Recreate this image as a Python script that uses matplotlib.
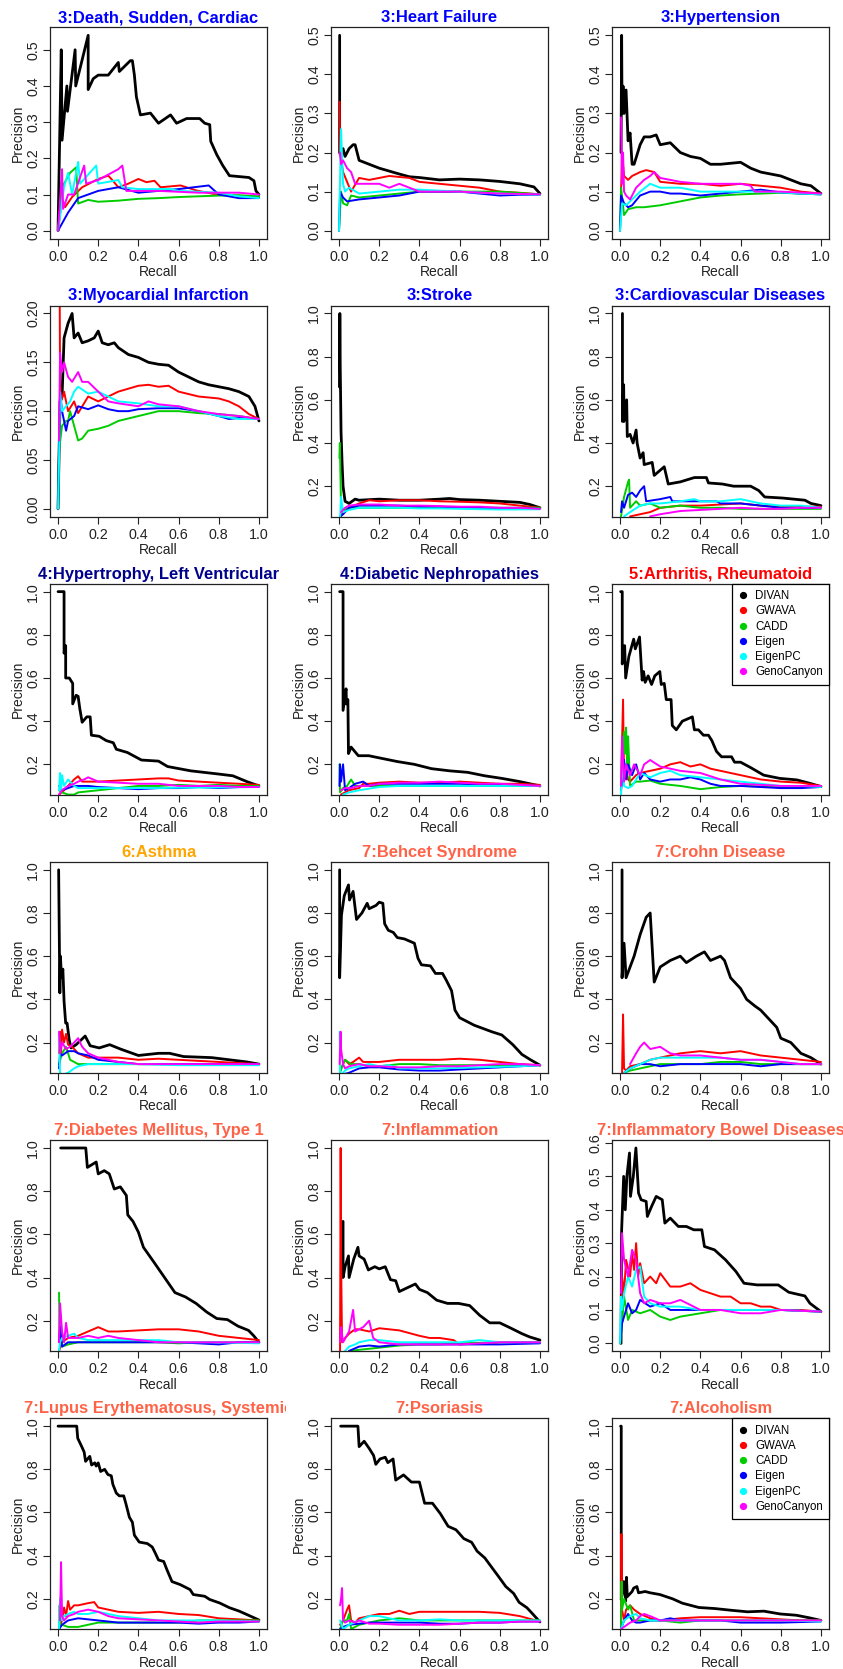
import matplotlib
matplotlib.use("Agg")
import matplotlib.pyplot as plt
from matplotlib.lines import Line2D
from matplotlib.transforms import Bbox, TransformedBbox
from matplotlib.ticker import FormatStrFormatter

plt.rcParams['font.family'] = ['Liberation Sans', 'DejaVu Sans']

methods = ["DIVAN", "GWAVA", "CADD", "Eigen", "EigenPC", "GenoCanyon"]
method_colors = ["#000000", "#FF0000", "#00CD00", "#0000FF", "#00FFFF", "#FF00FF"]

# (recall, precision) per method
death = {
    "DIVAN": ([0, 0.016, 0.02, 0.044, 0.047, 0.085, 0.088, 0.15, 0.15, 0.175, 0.2, 0.25, 0.3, 0.305, 0.36, 0.37, 0.38, 0.39, 0.41, 0.46, 0.5, 0.56, 0.59, 0.64, 0.705, 0.73, 0.755, 0.76, 0.79, 0.82, 0.853, 0.95, 0.975, 0.985, 1.0],
              [0, 0.5, 0.25, 0.4, 0.33, 0.5, 0.4, 0.54, 0.39, 0.42, 0.43, 0.43, 0.465, 0.44, 0.47, 0.47, 0.43, 0.37, 0.32, 0.325, 0.297, 0.32, 0.297, 0.31, 0.31, 0.297, 0.293, 0.247, 0.21, 0.18, 0.152, 0.147, 0.138, 0.11, 0.1]),
    "GWAVA": ([0, 0.02, 0.035, 0.07, 0.12, 0.2, 0.25, 0.27, 0.3, 0.35, 0.4, 0.44, 0.48, 0.51, 0.61, 0.69, 0.77, 1.0],
              [0, 0.09, 0.065, 0.093, 0.12, 0.143, 0.152, 0.14, 0.12, 0.13, 0.143, 0.134, 0.138, 0.12, 0.125, 0.111, 0.102, 0.093]),
    "CADD": ([0, 0.02, 0.04, 0.06, 0.09, 0.1, 0.15, 0.2, 0.3, 0.4, 0.5, 0.6, 0.7, 0.8, 0.9, 1.0],
             [0, 0.12, 0.14, 0.16, 0.175, 0.075, 0.085, 0.08, 0.083, 0.088, 0.09, 0.093, 0.095, 0.097, 0.098, 0.095]),
    "Eigen": ([0, 0.05, 0.1, 0.2, 0.3, 0.4, 0.5, 0.6, 0.75, 0.8, 0.9, 1.0],
              [0, 0.05, 0.09, 0.11, 0.12, 0.105, 0.11, 0.115, 0.125, 0.1, 0.09, 0.09]),
    "EigenPC": ([0, 0.03, 0.05, 0.07, 0.1, 0.11, 0.19, 0.2, 0.3, 0.32, 0.4, 0.56, 0.6, 0.8, 0.9, 1.0],
                [0, 0.12, 0.16, 0.1, 0.19, 0.13, 0.18, 0.13, 0.14, 0.12, 0.115, 0.115, 0.11, 0.105, 0.095, 0.09]),
    "GenoCanyon": ([0, 0.02, 0.025, 0.05, 0.08, 0.13, 0.14, 0.2, 0.3, 0.32, 0.34, 0.4, 0.5, 0.7, 0.9, 1.0],
                   [0, 0.17, 0.06, 0.1, 0.1, 0.18, 0.13, 0.14, 0.17, 0.18, 0.11, 0.11, 0.11, 0.105, 0.105, 0.1]),
}

heart_failure = {
    "DIVAN": ([0.003, 0.003, 0.01, 0.02, 0.03, 0.05, 0.07, 0.08, 0.1, 0.15, 0.2, 0.3, 0.35, 0.4, 0.5, 0.6, 0.7, 0.8, 0.9, 0.97, 1.0],
              [0.5, 0.2, 0.19, 0.21, 0.19, 0.21, 0.22, 0.22, 0.18, 0.17, 0.16, 0.145, 0.138, 0.136, 0.13, 0.132, 0.13, 0.126, 0.12, 0.112, 0.095]),
    "GWAVA": ([0.003, 0.005, 0.02, 0.06, 0.1, 0.15, 0.25, 0.35, 0.4, 0.5, 0.6, 0.7, 0.8, 0.9, 1.0],
              [0.33, 0.2, 0.15, 0.1, 0.135, 0.13, 0.14, 0.135, 0.125, 0.12, 0.115, 0.11, 0.1, 0.097, 0.093]),
    "CADD": ([0, 0.01, 0.02, 0.04, 0.06, 0.1, 0.2, 0.3, 0.4, 0.6, 0.8, 1.0],
             [0, 0.1, 0.07, 0.065, 0.09, 0.085, 0.09, 0.095, 0.1, 0.1, 0.1, 0.093]),
    "Eigen": ([0, 0.005, 0.02, 0.04, 0.1, 0.2, 0.3, 0.4, 0.6, 0.8, 0.9, 1.0],
              [0, 0.1, 0.085, 0.075, 0.08, 0.085, 0.09, 0.1, 0.1, 0.09, 0.092, 0.092]),
    "EigenPC": ([0, 0.01, 0.02, 0.03, 0.05, 0.1, 0.2, 0.3, 0.4, 0.6, 0.8, 1.0],
                [0, 0.26, 0.12, 0.1, 0.11, 0.095, 0.1, 0.105, 0.105, 0.1, 0.095, 0.092]),
    "GenoCanyon": ([0.005, 0.01, 0.02, 0.04, 0.06, 0.08, 0.1, 0.2, 0.25, 0.3, 0.35, 0.4, 0.6, 0.8, 1.0],
                   [0.2, 0.17, 0.18, 0.16, 0.15, 0.12, 0.12, 0.12, 0.11, 0.12, 0.11, 0.1, 0.1, 0.095, 0.093]),
}

hypertension = {
    "DIVAN": ([0.005, 0.008, 0.01, 0.015, 0.02, 0.03, 0.04, 0.05, 0.06, 0.07, 0.1, 0.12, 0.15, 0.18, 0.2, 0.25, 0.3, 0.35, 0.4, 0.45, 0.5, 0.6, 0.65, 0.7, 0.8, 0.9, 0.95, 1.0],
              [0.2, 0.5, 0.3, 0.37, 0.3, 0.36, 0.23, 0.25, 0.17, 0.17, 0.22, 0.24, 0.24, 0.245, 0.22, 0.225, 0.2, 0.19, 0.185, 0.17, 0.17, 0.175, 0.16, 0.15, 0.14, 0.12, 0.115, 0.095]),
    "GWAVA": ([0.005, 0.01, 0.02, 0.04, 0.06, 0.1, 0.13, 0.17, 0.2, 0.3, 0.4, 0.5, 0.6, 0.7, 0.8, 0.9, 1.0],
              [0.1, 0.2, 0.14, 0.13, 0.14, 0.15, 0.155, 0.15, 0.125, 0.12, 0.12, 0.115, 0.12, 0.115, 0.11, 0.1, 0.095]),
    "CADD": ([0, 0.005, 0.02, 0.04, 0.08, 0.12, 0.2, 0.3, 0.4, 0.5, 0.6, 0.7, 0.8, 0.9, 1.0],
             [0, 0.11, 0.04, 0.055, 0.06, 0.06, 0.065, 0.075, 0.085, 0.09, 0.093, 0.095, 0.097, 0.095, 0.093]),
    "Eigen": ([0, 0.005, 0.02, 0.04, 0.06, 0.1, 0.15, 0.2, 0.25, 0.3, 0.4, 0.5, 0.6, 0.7, 0.8, 0.9, 1.0],
              [0, 0.09, 0.07, 0.06, 0.065, 0.09, 0.1, 0.1, 0.095, 0.095, 0.09, 0.095, 0.1, 0.105, 0.098, 0.095, 0.093]),
    "EigenPC": ([0, 0.01, 0.03, 0.06, 0.1, 0.15, 0.2, 0.3, 0.4, 0.5, 0.6, 0.7, 0.8, 0.9, 1.0],
                [0, 0.07, 0.065, 0.08, 0.1, 0.12, 0.11, 0.11, 0.1, 0.1, 0.1, 0.1, 0.098, 0.095, 0.093]),
    "GenoCanyon": ([0.005, 0.01, 0.015, 0.02, 0.03, 0.05, 0.08, 0.12, 0.15, 0.17, 0.2, 0.3, 0.4, 0.5, 0.6, 0.65, 0.67, 0.8, 1.0],
                   [0.29, 0.12, 0.2, 0.1, 0.09, 0.08, 0.11, 0.13, 0.14, 0.15, 0.135, 0.125, 0.12, 0.12, 0.12, 0.115, 0.1, 0.1, 0.095]),
}

myocardial = {
    "DIVAN": ([0, 0.01, 0.02, 0.03, 0.05, 0.07, 0.08, 0.1, 0.12, 0.15, 0.18, 0.2, 0.22, 0.25, 0.28, 0.3, 0.35, 0.4, 0.45, 0.5, 0.55, 0.6, 0.65, 0.7, 0.75, 0.8, 0.85, 0.9, 0.95, 0.98, 1.0],
              [0, 0.11, 0.115, 0.175, 0.19, 0.2, 0.175, 0.18, 0.17, 0.172, 0.175, 0.182, 0.17, 0.168, 0.17, 0.165, 0.158, 0.155, 0.15, 0.148, 0.147, 0.14, 0.135, 0.13, 0.127, 0.125, 0.123, 0.12, 0.115, 0.105, 0.09]),
    "GWAVA": ([0.003, 0.01, 0.015, 0.03, 0.05, 0.08, 0.1, 0.15, 0.2, 0.3, 0.4, 0.45, 0.5, 0.55, 0.6, 0.7, 0.8, 0.85, 0.9, 0.95, 1.0],
              [0.5, 0.13, 0.11, 0.12, 0.1, 0.11, 0.098, 0.115, 0.11, 0.12, 0.126, 0.127, 0.125, 0.126, 0.12, 0.115, 0.113, 0.11, 0.105, 0.097, 0.092]),
    "CADD": ([0, 0.005, 0.02, 0.04, 0.05, 0.06, 0.08, 0.1, 0.12, 0.15, 0.2, 0.25, 0.3, 0.4, 0.5, 0.6, 0.7, 0.8, 0.9, 1.0],
             [0, 0.06, 0.085, 0.09, 0.09, 0.1, 0.085, 0.07, 0.072, 0.08, 0.082, 0.085, 0.09, 0.095, 0.1, 0.1, 0.098, 0.097, 0.095, 0.092]),
    "Eigen": ([0, 0.005, 0.01, 0.02, 0.04, 0.05, 0.08, 0.1, 0.15, 0.2, 0.25, 0.3, 0.35, 0.4, 0.5, 0.6, 0.7, 0.8, 0.85, 0.9, 1.0],
              [0, 0.06, 0.12, 0.1, 0.08, 0.09, 0.095, 0.105, 0.102, 0.106, 0.102, 0.1, 0.1, 0.102, 0.103, 0.103, 0.1, 0.095, 0.092, 0.093, 0.092]),
    "EigenPC": ([0, 0.005, 0.01, 0.02, 0.04, 0.06, 0.08, 0.1, 0.15, 0.2, 0.3, 0.4, 0.5, 0.6, 0.7, 0.8, 0.9, 1.0],
                [0, 0.05, 0.12, 0.1, 0.105, 0.11, 0.12, 0.125, 0.118, 0.12, 0.11, 0.108, 0.105, 0.105, 0.1, 0.095, 0.092, 0.092]),
    "GenoCanyon": ([0.005, 0.01, 0.02, 0.03, 0.05, 0.07, 0.1, 0.12, 0.15, 0.2, 0.25, 0.3, 0.4, 0.45, 0.5, 0.6, 0.7, 0.8, 0.9, 1.0],
                   [0.07, 0.16, 0.14, 0.15, 0.135, 0.13, 0.14, 0.13, 0.13, 0.12, 0.11, 0.108, 0.105, 0.11, 0.107, 0.105, 0.1, 0.097, 0.095, 0.092]),
}

stroke = {
    "DIVAN": ([0.002, 0.004, 0.006, 0.01, 0.015, 0.02, 0.03, 0.05, 0.08, 0.1, 0.2, 0.3, 0.4, 0.5, 0.55, 0.6, 0.7, 0.8, 0.9, 0.95, 1.0],
              [0.66, 1.0, 0.75, 0.45, 0.31, 0.2, 0.13, 0.12, 0.14, 0.135, 0.14, 0.135, 0.135, 0.14, 0.143, 0.138, 0.135, 0.13, 0.125, 0.115, 0.1]),
    "GWAVA": ([0.005, 0.02, 0.05, 0.1, 0.15, 0.2, 0.3, 0.4, 0.5, 0.6, 0.7, 0.8, 0.9, 1.0],
              [0.05, 0.08, 0.1, 0.12, 0.135, 0.13, 0.135, 0.135, 0.13, 0.128, 0.125, 0.12, 0.11, 0.1]),
    "CADD": ([0.002, 0.004, 0.01, 0.02, 0.05, 0.1, 0.2, 0.3, 0.4, 0.5, 0.6, 0.8, 1.0],
             [0.33, 0.4, 0.1, 0.09, 0.1, 0.1, 0.1, 0.1, 0.1, 0.1, 0.1, 0.1, 0.1]),
    "Eigen": ([0.005, 0.02, 0.05, 0.1, 0.2, 0.3, 0.4, 0.5, 0.6, 0.7, 0.8, 0.9, 1.0],
              [0.06, 0.07, 0.1, 0.11, 0.11, 0.11, 0.105, 0.105, 0.1, 0.1, 0.098, 0.097, 0.095]),
    "EigenPC": ([0.005, 0.01, 0.02, 0.05, 0.1, 0.2, 0.3, 0.4, 0.5, 0.6, 0.8, 1.0],
                [0.05, 0.15, 0.08, 0.09, 0.1, 0.1, 0.1, 0.097, 0.097, 0.095, 0.092, 0.093]),
    "GenoCanyon": ([0.01, 0.03, 0.05, 0.1, 0.2, 0.3, 0.4, 0.5, 0.6, 0.7, 0.8, 0.9, 1.0],
                   [0.08, 0.1, 0.11, 0.115, 0.115, 0.11, 0.11, 0.108, 0.105, 0.105, 0.1, 0.1, 0.095]),
}

cardiovascular = {
    "DIVAN": ([0.012, 0.012, 0.018, 0.02, 0.033, 0.036, 0.05, 0.065, 0.08, 0.085, 0.1, 0.115, 0.12, 0.16, 0.17, 0.22, 0.24, 0.3, 0.37, 0.43, 0.44, 0.51, 0.565, 0.65, 0.69, 0.72, 0.81, 0.92, 0.95, 1.0],
              [1.0, 0.5, 0.67, 0.5, 0.6, 0.43, 0.44, 0.4, 0.46, 0.4, 0.33, 0.355, 0.3, 0.31, 0.25, 0.29, 0.21, 0.22, 0.24, 0.24, 0.215, 0.21, 0.2, 0.2, 0.18, 0.15, 0.145, 0.135, 0.12, 0.11]),
    "GWAVA": ([0.05, 0.1, 0.15, 0.2, 0.3, 0.4, 0.5, 0.6, 0.7, 0.8, 0.9, 1.0],
              [0.06, 0.07, 0.08, 0.1, 0.11, 0.11, 0.115, 0.12, 0.11, 0.105, 0.105, 0.105]),
    "CADD": ([0.005, 0.02, 0.04, 0.045, 0.05, 0.08, 0.1, 0.15, 0.2, 0.3, 0.4, 0.5, 0.6, 0.8, 1.0],
             [0.06, 0.15, 0.22, 0.23, 0.1, 0.13, 0.11, 0.12, 0.1, 0.11, 0.1, 0.1, 0.095, 0.095, 0.095]),
    "Eigen": ([0.005, 0.01, 0.02, 0.04, 0.06, 0.08, 0.1, 0.12, 0.13, 0.2, 0.25, 0.26, 0.3, 0.4, 0.48, 0.5, 0.6, 0.8, 1.0],
              [0.08, 0.13, 0.1, 0.16, 0.17, 0.15, 0.18, 0.2, 0.13, 0.14, 0.15, 0.13, 0.13, 0.13, 0.13, 0.12, 0.12, 0.1, 0.1]),
    "EigenPC": ([0.02, 0.05, 0.1, 0.15, 0.2, 0.3, 0.37, 0.4, 0.5, 0.6, 0.7, 0.8, 0.9, 1.0],
                [0.06, 0.08, 0.11, 0.12, 0.12, 0.13, 0.14, 0.13, 0.13, 0.14, 0.12, 0.11, 0.11, 0.1]),
    "GenoCanyon": ([0.15, 0.2, 0.3, 0.4, 0.5, 0.6, 0.7, 0.8, 0.9, 1.0],
                   [0.06, 0.07, 0.085, 0.09, 0.095, 0.1, 0.095, 0.095, 0.1, 0.1]),
}

hypertrophy = {
    "DIVAN": ([0, 0.03, 0.03, 0.038, 0.038, 0.056, 0.073, 0.073, 0.09, 0.1, 0.108, 0.12, 0.143, 0.16, 0.166, 0.205, 0.24, 0.275, 0.29, 0.345, 0.415, 0.5, 0.545, 0.66, 0.8, 0.87, 0.94, 1.0],
              [1.0, 1.0, 0.715, 0.75, 0.6, 0.6, 0.575, 0.48, 0.52, 0.515, 0.46, 0.395, 0.42, 0.42, 0.335, 0.33, 0.31, 0.3, 0.27, 0.255, 0.22, 0.215, 0.19, 0.17, 0.155, 0.147, 0.12, 0.1]),
    "GWAVA": ([0.005, 0.03, 0.06, 0.08, 0.1, 0.12, 0.2, 0.3, 0.4, 0.5, 0.55, 0.6, 0.7, 0.8, 0.9, 1.0],
              [0.06, 0.08, 0.11, 0.13, 0.145, 0.12, 0.12, 0.125, 0.13, 0.135, 0.135, 0.125, 0.12, 0.115, 0.11, 0.105]),
    "CADD": ([0.005, 0.02, 0.05, 0.08, 0.1, 0.15, 0.2, 0.3, 0.4, 0.5, 0.6, 0.7, 0.8, 0.9, 1.0],
             [0.08, 0.07, 0.06, 0.06, 0.07, 0.075, 0.08, 0.09, 0.1, 0.1, 0.105, 0.1, 0.105, 0.1, 0.1]),
    "Eigen": ([0.005, 0.02, 0.05, 0.08, 0.1, 0.15, 0.2, 0.3, 0.4, 0.5, 0.6, 0.7, 0.8, 0.9, 1.0],
              [0.1, 0.08, 0.09, 0.1, 0.1, 0.1, 0.095, 0.09, 0.085, 0.09, 0.09, 0.095, 0.09, 0.095, 0.095]),
    "EigenPC": ([0.005, 0.01, 0.015, 0.02, 0.03, 0.05, 0.08, 0.1, 0.2, 0.3, 0.4, 0.5, 0.6, 0.8, 1.0],
                [0.08, 0.16, 0.08, 0.15, 0.1, 0.13, 0.1, 0.09, 0.09, 0.09, 0.09, 0.09, 0.092, 0.093, 0.095]),
    "GenoCanyon": ([0.005, 0.02, 0.05, 0.08, 0.1, 0.13, 0.15, 0.2, 0.3, 0.4, 0.5, 0.6, 0.7, 0.8, 0.9, 1.0],
                   [0.06, 0.08, 0.1, 0.11, 0.12, 0.13, 0.14, 0.12, 0.115, 0.11, 0.11, 0.1, 0.1, 0.1, 0.095, 0.095]),
}

nephropathies = {
    "DIVAN": ([0.003, 0.02, 0.02, 0.035, 0.037, 0.044, 0.047, 0.06, 0.096, 0.148, 0.2, 0.29, 0.375, 0.46, 0.55, 0.64, 0.725, 0.81, 0.9, 1.0],
              [1.0, 1.0, 0.45, 0.55, 0.48, 0.5, 0.25, 0.28, 0.24, 0.24, 0.23, 0.213, 0.2, 0.18, 0.17, 0.163, 0.147, 0.135, 0.12, 0.1]),
    "GWAVA": ([0.01, 0.05, 0.1, 0.12, 0.15, 0.2, 0.3, 0.4, 0.5, 0.6, 0.7, 0.8, 0.9, 1.0],
              [0.06, 0.08, 0.09, 0.11, 0.11, 0.115, 0.12, 0.115, 0.115, 0.12, 0.115, 0.11, 0.11, 0.105]),
    "CADD": ([0.002, 0.005, 0.02, 0.04, 0.06, 0.08, 0.1, 0.2, 0.3, 0.4, 0.5, 0.6, 0.8, 1.0],
             [0.2, 0.07, 0.09, 0.1, 0.13, 0.1, 0.1, 0.1, 0.1, 0.1, 0.1, 0.1, 0.1, 0.1]),
    "Eigen": ([0.002, 0.005, 0.01, 0.02, 0.03, 0.05, 0.08, 0.12, 0.15, 0.2, 0.3, 0.4, 0.6, 0.8, 1.0],
              [0.1, 0.2, 0.12, 0.2, 0.08, 0.09, 0.11, 0.12, 0.1, 0.11, 0.11, 0.11, 0.11, 0.105, 0.1]),
    "EigenPC": ([0.02, 0.05, 0.1, 0.2, 0.3, 0.4, 0.5, 0.6, 0.8, 1.0],
                [0.06, 0.07, 0.08, 0.095, 0.1, 0.1, 0.1, 0.1, 0.1, 0.1]),
    "GenoCanyon": ([0.01, 0.03, 0.06, 0.1, 0.15, 0.2, 0.3, 0.4, 0.5, 0.6, 0.7, 0.8, 0.9, 1.0],
                   [0.08, 0.09, 0.09, 0.1, 0.1, 0.11, 0.115, 0.115, 0.12, 0.115, 0.11, 0.11, 0.105, 0.1]),
}

arthritis = {
    "DIVAN": ([0.003, 0.011, 0.011, 0.015, 0.023, 0.028, 0.044, 0.068, 0.076, 0.097, 0.11, 0.117, 0.125, 0.14, 0.157, 0.173, 0.198, 0.205, 0.22, 0.23, 0.254, 0.26, 0.28, 0.31, 0.36, 0.37, 0.39, 0.415, 0.44, 0.457, 0.48, 0.505, 0.555, 0.57, 0.6, 0.65, 0.715, 0.795, 0.88, 0.945, 1.0],
              [1.0, 1.0, 0.665, 0.745, 0.75, 0.6, 0.7, 0.78, 0.735, 0.79, 0.59, 0.63, 0.58, 0.61, 0.57, 0.61, 0.63, 0.57, 0.575, 0.5, 0.5, 0.38, 0.36, 0.4, 0.42, 0.36, 0.36, 0.335, 0.335, 0.31, 0.26, 0.235, 0.235, 0.21, 0.21, 0.185, 0.15, 0.135, 0.128, 0.112, 0.097]),
    "GWAVA": ([0.005, 0.015, 0.02, 0.025, 0.04, 0.05, 0.08, 0.1, 0.15, 0.2, 0.25, 0.3, 0.35, 0.4, 0.45, 0.5, 0.6, 0.7, 0.8, 0.9, 1.0],
              [0.1, 0.5, 0.15, 0.2, 0.13, 0.12, 0.15, 0.16, 0.17, 0.18, 0.2, 0.21, 0.19, 0.2, 0.18, 0.17, 0.15, 0.13, 0.12, 0.115, 0.1]),
    "CADD": ([0.005, 0.02, 0.025, 0.03, 0.035, 0.04, 0.05, 0.08, 0.1, 0.15, 0.2, 0.3, 0.4, 0.5, 0.6, 0.8, 1.0],
             [0.08, 0.35, 0.25, 0.37, 0.2, 0.33, 0.1, 0.12, 0.12, 0.125, 0.11, 0.1, 0.085, 0.095, 0.1, 0.095, 0.095]),
    "Eigen": ([0.005, 0.02, 0.03, 0.04, 0.06, 0.08, 0.1, 0.12, 0.15, 0.2, 0.25, 0.3, 0.35, 0.4, 0.45, 0.5, 0.6, 0.7, 0.8, 0.9, 1.0],
              [0.08, 0.22, 0.13, 0.2, 0.15, 0.2, 0.13, 0.16, 0.13, 0.12, 0.13, 0.13, 0.14, 0.13, 0.11, 0.1, 0.1, 0.095, 0.09, 0.09, 0.095]),
    "EigenPC": ([0.005, 0.01, 0.02, 0.04, 0.06, 0.08, 0.1, 0.15, 0.2, 0.25, 0.3, 0.4, 0.5, 0.6, 0.7, 0.8, 0.9, 1.0],
                [0.06, 0.25, 0.1, 0.09, 0.1, 0.13, 0.16, 0.14, 0.16, 0.17, 0.15, 0.14, 0.13, 0.12, 0.11, 0.1, 0.1, 0.095]),
    "GenoCanyon": ([0.005, 0.01, 0.02, 0.03, 0.05, 0.07, 0.1, 0.12, 0.15, 0.2, 0.25, 0.3, 0.4, 0.5, 0.6, 0.8, 1.0],
                   [0.1, 0.33, 0.12, 0.2, 0.15, 0.2, 0.15, 0.2, 0.22, 0.19, 0.18, 0.17, 0.16, 0.13, 0.11, 0.1, 0.1]),
}

asthma = {
    "DIVAN": ([0.003, 0.009, 0.012, 0.017, 0.024, 0.03, 0.038, 0.045, 0.056, 0.065, 0.09, 0.135, 0.16, 0.205, 0.257, 0.31, 0.4, 0.5, 0.555, 0.625, 0.765, 0.94, 1.0],
              [1.0, 0.43, 0.6, 0.5, 0.54, 0.39, 0.29, 0.29, 0.21, 0.175, 0.19, 0.23, 0.185, 0.175, 0.19, 0.17, 0.14, 0.15, 0.15, 0.135, 0.13, 0.11, 0.1]),
    "GWAVA": ([0.005, 0.01, 0.015, 0.02, 0.03, 0.04, 0.05, 0.07, 0.1, 0.15, 0.2, 0.3, 0.4, 0.5, 0.6, 0.7, 0.8, 0.9, 1.0],
              [0.15, 0.25, 0.15, 0.26, 0.2, 0.24, 0.19, 0.18, 0.15, 0.13, 0.13, 0.13, 0.12, 0.125, 0.12, 0.115, 0.11, 0.105, 0.1]),
    "CADD": ([0.005, 0.02, 0.04, 0.05, 0.06, 0.08, 0.1, 0.15, 0.2, 0.3, 0.4, 0.6, 0.8, 1.0],
             [0.1, 0.15, 0.18, 0.15, 0.12, 0.11, 0.1, 0.1, 0.1, 0.1, 0.1, 0.1, 0.1, 0.1]),
    "Eigen": ([0.005, 0.01, 0.02, 0.05, 0.08, 0.1, 0.15, 0.2, 0.3, 0.4, 0.5, 0.6, 0.8, 1.0],
              [0.08, 0.15, 0.14, 0.16, 0.16, 0.15, 0.14, 0.12, 0.11, 0.1, 0.1, 0.1, 0.1, 0.1]),
    "EigenPC": ([0.005, 0.01, 0.02, 0.05, 0.08, 0.1, 0.15, 0.2, 0.3, 0.4, 0.6, 0.8, 1.0],
                [0.25, 0.06, 0.05, 0.06, 0.08, 0.09, 0.1, 0.1, 0.1, 0.1, 0.095, 0.095, 0.095]),
    "GenoCanyon": ([0.005, 0.01, 0.02, 0.04, 0.06, 0.08, 0.1, 0.12, 0.15, 0.2, 0.25, 0.3, 0.4, 0.5, 0.6, 0.8, 1.0],
                   [0.25, 0.15, 0.2, 0.17, 0.18, 0.2, 0.22, 0.18, 0.15, 0.13, 0.12, 0.11, 0.1, 0.1, 0.1, 0.1, 0.1]),
}

behcet = {
    "DIVAN": ([0.003, 0.003, 0.012, 0.026, 0.047, 0.052, 0.07, 0.087, 0.114, 0.14, 0.15, 0.184, 0.2, 0.218, 0.227, 0.245, 0.27, 0.29, 0.325, 0.375, 0.393, 0.41, 0.455, 0.48, 0.515, 0.533, 0.56, 0.577, 0.6, 0.673, 0.76, 0.81, 0.865, 0.91, 0.953, 1.0],
              [1.0, 0.5, 0.79, 0.88, 0.93, 0.86, 0.9, 0.77, 0.8, 0.845, 0.82, 0.835, 0.85, 0.845, 0.75, 0.72, 0.71, 0.686, 0.68, 0.66, 0.59, 0.56, 0.555, 0.52, 0.52, 0.49, 0.44, 0.35, 0.315, 0.28, 0.25, 0.235, 0.19, 0.145, 0.12, 0.095]),
    "GWAVA": ([0.005, 0.02, 0.03, 0.05, 0.07, 0.1, 0.12, 0.15, 0.2, 0.3, 0.4, 0.5, 0.6, 0.7, 0.8, 0.9, 1.0],
              [0.07, 0.1, 0.12, 0.1, 0.11, 0.13, 0.11, 0.11, 0.11, 0.12, 0.12, 0.12, 0.125, 0.12, 0.11, 0.1, 0.095]),
    "CADD": ([0.005, 0.02, 0.03, 0.06, 0.1, 0.15, 0.2, 0.3, 0.4, 0.5, 0.6, 0.8, 1.0],
             [0.06, 0.1, 0.12, 0.1, 0.1, 0.09, 0.09, 0.1, 0.1, 0.095, 0.095, 0.095, 0.095]),
    "Eigen": ([0.01, 0.05, 0.1, 0.15, 0.2, 0.3, 0.4, 0.5, 0.6, 0.7, 0.8, 0.9, 1.0],
              [0.05, 0.06, 0.08, 0.085, 0.085, 0.075, 0.07, 0.07, 0.075, 0.08, 0.085, 0.09, 0.095]),
    "EigenPC": ([0.003, 0.005, 0.01, 0.03, 0.05, 0.1, 0.15, 0.2, 0.25, 0.3, 0.5, 0.7, 0.9, 1.0],
                [0.25, 0.06, 0.05, 0.07, 0.08, 0.09, 0.1, 0.09, 0.095, 0.08, 0.08, 0.085, 0.09, 0.095]),
    "GenoCanyon": ([0.003, 0.008, 0.01, 0.02, 0.03, 0.05, 0.1, 0.15, 0.2, 0.3, 0.4, 0.5, 0.6, 0.7, 0.8, 0.9, 1.0],
                   [0.1, 0.25, 0.17, 0.1, 0.08, 0.09, 0.1, 0.09, 0.09, 0.085, 0.085, 0.09, 0.09, 0.095, 0.1, 0.1, 0.095]),
}

crohn = {
    "DIVAN": ([0.01, 0.01, 0.02, 0.03, 0.05, 0.07, 0.1, 0.13, 0.15, 0.17, 0.2, 0.25, 0.3, 0.33, 0.38, 0.42, 0.45, 0.5, 0.52, 0.55, 0.6, 0.63, 0.67, 0.7, 0.75, 0.78, 0.8, 0.85, 0.9, 0.95, 1.0],
              [1.0, 0.5, 0.66, 0.5, 0.55, 0.6, 0.7, 0.78, 0.8, 0.48, 0.55, 0.58, 0.6, 0.57, 0.6, 0.62, 0.58, 0.6, 0.58, 0.5, 0.45, 0.4, 0.37, 0.35, 0.3, 0.27, 0.22, 0.2, 0.15, 0.13, 0.1]),
    "GWAVA": ([0.01, 0.015, 0.02, 0.03, 0.05, 0.1, 0.15, 0.2, 0.3, 0.4, 0.5, 0.6, 0.7, 0.8, 0.9, 1.0],
              [0.06, 0.33, 0.08, 0.07, 0.09, 0.1, 0.12, 0.13, 0.15, 0.16, 0.15, 0.16, 0.14, 0.13, 0.12, 0.11]),
    "CADD": ([0.02, 0.05, 0.1, 0.15, 0.2, 0.3, 0.4, 0.5, 0.6, 0.7, 0.8, 1.0],
             [0.06, 0.07, 0.08, 0.09, 0.1, 0.1, 0.1, 0.11, 0.11, 0.1, 0.1, 0.1]),
    "Eigen": ([0.02, 0.05, 0.1, 0.15, 0.2, 0.3, 0.4, 0.5, 0.6, 0.7, 0.8, 0.9, 1.0],
              [0.06, 0.08, 0.1, 0.1, 0.09, 0.1, 0.1, 0.1, 0.1, 0.09, 0.1, 0.1, 0.1]),
    "EigenPC": ([0.02, 0.05, 0.1, 0.15, 0.2, 0.3, 0.4, 0.5, 0.6, 0.7, 0.8, 0.9, 1.0],
                [0.06, 0.08, 0.1, 0.12, 0.13, 0.13, 0.13, 0.13, 0.12, 0.12, 0.11, 0.1, 0.1]),
    "GenoCanyon": ([0.05, 0.08, 0.1, 0.12, 0.15, 0.2, 0.25, 0.3, 0.4, 0.5, 0.6, 0.7, 0.8, 0.9, 1.0],
                   [0.1, 0.15, 0.18, 0.2, 0.17, 0.18, 0.15, 0.14, 0.14, 0.13, 0.12, 0.12, 0.11, 0.1, 0.1]),
}

diabetes_t1 = {
    "DIVAN": ([0.013, 0.138, 0.146, 0.19, 0.2, 0.23, 0.255, 0.28, 0.31, 0.34, 0.347, 0.373, 0.4, 0.425, 0.478, 0.53, 0.582, 0.634, 0.687, 0.74, 0.79, 0.843, 0.895, 0.948, 0.974, 1.0],
              [1.0, 1.0, 0.91, 0.935, 0.88, 0.895, 0.88, 0.81, 0.82, 0.78, 0.69, 0.66, 0.61, 0.54, 0.47, 0.4, 0.33, 0.31, 0.28, 0.24, 0.21, 0.205, 0.175, 0.155, 0.13, 0.1]),
    "GWAVA": ([0.005, 0.02, 0.05, 0.1, 0.15, 0.2, 0.25, 0.3, 0.4, 0.5, 0.6, 0.7, 0.8, 0.9, 1.0],
              [0.06, 0.1, 0.12, 0.13, 0.15, 0.17, 0.15, 0.15, 0.155, 0.16, 0.16, 0.15, 0.13, 0.12, 0.11]),
    "CADD": ([0.005, 0.008, 0.01, 0.02, 0.05, 0.1, 0.2, 0.3, 0.4, 0.5, 0.6, 0.7, 0.8, 1.0],
             [0.33, 0.1, 0.25, 0.08, 0.09, 0.1, 0.1, 0.1, 0.1, 0.1, 0.095, 0.1, 0.1, 0.1]),
    "Eigen": ([0.005, 0.01, 0.02, 0.05, 0.1, 0.2, 0.3, 0.4, 0.5, 0.6, 0.7, 0.8, 0.9, 1.0],
              [0.1, 0.17, 0.08, 0.1, 0.1, 0.1, 0.1, 0.1, 0.1, 0.1, 0.095, 0.09, 0.1, 0.1]),
    "EigenPC": ([0.005, 0.01, 0.02, 0.05, 0.08, 0.1, 0.15, 0.2, 0.3, 0.4, 0.5, 0.6, 0.8, 1.0],
                [0.06, 0.1, 0.12, 0.13, 0.14, 0.12, 0.11, 0.11, 0.11, 0.11, 0.11, 0.1, 0.1, 0.095]),
    "GenoCanyon": ([0.005, 0.01, 0.02, 0.03, 0.04, 0.05, 0.08, 0.1, 0.15, 0.2, 0.25, 0.3, 0.4, 0.5, 0.6, 0.8, 1.0],
                   [0.1, 0.28, 0.15, 0.1, 0.19, 0.12, 0.12, 0.12, 0.13, 0.12, 0.13, 0.12, 0.11, 0.1, 0.1, 0.1, 0.1]),
}

inflammation = {
    "DIVAN": ([0.02, 0.02, 0.03, 0.047, 0.05, 0.073, 0.094, 0.1, 0.125, 0.146, 0.178, 0.2, 0.23, 0.256, 0.282, 0.3, 0.334, 0.38, 0.4, 0.44, 0.486, 0.54, 0.595, 0.65, 0.7, 0.75, 0.8, 0.856, 0.91, 0.948, 1.0],
              [0.66, 0.4, 0.45, 0.5, 0.4, 0.485, 0.54, 0.5, 0.485, 0.435, 0.45, 0.44, 0.45, 0.39, 0.385, 0.335, 0.35, 0.37, 0.345, 0.33, 0.295, 0.28, 0.28, 0.27, 0.225, 0.19, 0.19, 0.165, 0.14, 0.125, 0.11]),
    "GWAVA": ([0.005, 0.008, 0.01, 0.015, 0.03, 0.05, 0.08, 0.1, 0.15, 0.2, 0.25, 0.3, 0.4, 0.45, 0.5, 0.57, 0.6, 0.8, 0.9, 1.0],
              [0.06, 1.0, 0.5, 0.1, 0.12, 0.14, 0.16, 0.16, 0.15, 0.165, 0.16, 0.155, 0.13, 0.12, 0.12, 0.11, 0.09, 0.1, 0.1, 0.1]),
    "CADD": ([0.05, 0.1, 0.15, 0.2, 0.3, 0.4, 0.5, 0.6, 0.8, 1.0],
             [0.06, 0.065, 0.07, 0.075, 0.085, 0.09, 0.09, 0.095, 0.1, 0.1]),
    "Eigen": ([0.05, 0.1, 0.15, 0.2, 0.3, 0.4, 0.5, 0.6, 0.8, 1.0],
              [0.06, 0.08, 0.085, 0.08, 0.09, 0.09, 0.09, 0.09, 0.09, 0.095]),
    "EigenPC": ([0.03, 0.05, 0.08, 0.1, 0.15, 0.2, 0.3, 0.4, 0.5, 0.6, 0.7, 0.8, 0.9, 1.0],
                [0.06, 0.08, 0.09, 0.1, 0.11, 0.11, 0.1, 0.1, 0.1, 0.1, 0.11, 0.1, 0.1, 0.1]),
    "GenoCanyon": ([0.005, 0.01, 0.02, 0.05, 0.06, 0.07, 0.08, 0.1, 0.12, 0.14, 0.15, 0.17, 0.2, 0.3, 0.4, 0.5, 0.6, 0.8, 1.0],
                   [0.1, 0.17, 0.1, 0.15, 0.2, 0.25, 0.15, 0.16, 0.17, 0.19, 0.2, 0.12, 0.1, 0.09, 0.09, 0.09, 0.09, 0.1, 0.1]),
}

bowel = {
    "DIVAN": ([0.005, 0.008, 0.018, 0.026, 0.034, 0.047, 0.052, 0.066, 0.079, 0.092, 0.105, 0.13, 0.136, 0.157, 0.18, 0.21, 0.223, 0.25, 0.29, 0.33, 0.367, 0.407, 0.42, 0.47, 0.525, 0.577, 0.617, 0.682, 0.787, 0.84, 0.92, 0.945, 1.0],
              [0, 0.34, 0.5, 0.4, 0.5, 0.57, 0.44, 0.5, 0.585, 0.45, 0.43, 0.425, 0.38, 0.41, 0.44, 0.43, 0.36, 0.375, 0.35, 0.35, 0.34, 0.34, 0.29, 0.28, 0.25, 0.215, 0.18, 0.175, 0.175, 0.153, 0.142, 0.12, 0.095]),
    "GWAVA": ([0.005, 0.01, 0.02, 0.03, 0.05, 0.06, 0.07, 0.08, 0.09, 0.1, 0.12, 0.15, 0.18, 0.2, 0.25, 0.3, 0.35, 0.4, 0.45, 0.5, 0.55, 0.6, 0.65, 0.7, 0.75, 0.8, 0.9, 1.0],
              [0.05, 0.2, 0.15, 0.25, 0.2, 0.27, 0.22, 0.3, 0.2, 0.24, 0.18, 0.2, 0.18, 0.21, 0.17, 0.17, 0.18, 0.16, 0.15, 0.14, 0.14, 0.12, 0.12, 0.11, 0.11, 0.1, 0.1, 0.095]),
    "CADD": ([0, 0.01, 0.02, 0.04, 0.06, 0.1, 0.15, 0.2, 0.25, 0.3, 0.4, 0.5, 0.6, 0.8, 1.0],
             [0, 0.06, 0.14, 0.07, 0.1, 0.09, 0.1, 0.08, 0.07, 0.08, 0.09, 0.1, 0.1, 0.1, 0.095]),
    "Eigen": ([0, 0.01, 0.02, 0.04, 0.06, 0.08, 0.1, 0.15, 0.2, 0.25, 0.3, 0.4, 0.5, 0.6, 0.8, 1.0],
              [0, 0.06, 0.08, 0.12, 0.09, 0.1, 0.13, 0.11, 0.12, 0.1, 0.1, 0.1, 0.1, 0.1, 0.1, 0.095]),
    "EigenPC": ([0, 0.005, 0.01, 0.02, 0.04, 0.06, 0.08, 0.1, 0.12, 0.15, 0.2, 0.3, 0.4, 0.5, 0.6, 0.8, 1.0],
                [0, 0.14, 0.1, 0.15, 0.2, 0.17, 0.22, 0.23, 0.14, 0.12, 0.11, 0.11, 0.1, 0.1, 0.1, 0.1, 0.095]),
    "GenoCanyon": ([0.005, 0.01, 0.02, 0.04, 0.06, 0.08, 0.1, 0.12, 0.15, 0.2, 0.25, 0.3, 0.4, 0.5, 0.6, 0.7, 0.8, 1.0],
                   [0.15, 0.33, 0.25, 0.2, 0.28, 0.25, 0.15, 0.12, 0.13, 0.12, 0.12, 0.13, 0.1, 0.1, 0.09, 0.09, 0.1, 0.095]),
}

lupus = {
    "DIVAN": ([0, 0.093, 0.098, 0.118, 0.13, 0.137, 0.158, 0.167, 0.183, 0.19, 0.2, 0.212, 0.232, 0.248, 0.265, 0.273, 0.29, 0.305, 0.327, 0.338, 0.355, 0.37, 0.38, 0.404, 0.445, 0.469, 0.485, 0.5, 0.526, 0.542, 0.567, 0.608, 0.657, 0.673, 0.73, 0.755, 0.804, 0.853, 0.902, 0.95, 1.0],
              [1.0, 1.0, 0.944, 0.905, 0.88, 0.837, 0.86, 0.82, 0.83, 0.815, 0.83, 0.79, 0.8, 0.776, 0.77, 0.73, 0.69, 0.677, 0.677, 0.64, 0.578, 0.555, 0.495, 0.463, 0.456, 0.44, 0.41, 0.38, 0.373, 0.335, 0.28, 0.266, 0.243, 0.22, 0.212, 0.197, 0.181, 0.159, 0.143, 0.123, 0.102]),
    "GWAVA": ([0.005, 0.02, 0.03, 0.04, 0.05, 0.06, 0.08, 0.1, 0.15, 0.18, 0.2, 0.25, 0.3, 0.4, 0.5, 0.6, 0.7, 0.8, 0.9, 1.0],
              [0.06, 0.1, 0.16, 0.12, 0.19, 0.15, 0.17, 0.17, 0.18, 0.185, 0.16, 0.15, 0.14, 0.135, 0.14, 0.13, 0.125, 0.11, 0.105, 0.1]),
    "CADD": ([0.005, 0.008, 0.01, 0.02, 0.05, 0.1, 0.15, 0.2, 0.3, 0.4, 0.5, 0.6, 0.7, 0.8, 1.0],
             [0.06, 0.17, 0.07, 0.08, 0.07, 0.07, 0.08, 0.09, 0.09, 0.09, 0.09, 0.09, 0.1, 0.1, 0.1]),
    "Eigen": ([0.005, 0.02, 0.05, 0.1, 0.15, 0.2, 0.3, 0.4, 0.5, 0.6, 0.7, 0.8, 0.9, 1.0],
              [0.06, 0.08, 0.1, 0.11, 0.105, 0.1, 0.09, 0.09, 0.09, 0.09, 0.085, 0.09, 0.09, 0.095]),
    "EigenPC": ([0.005, 0.01, 0.015, 0.02, 0.03, 0.05, 0.08, 0.1, 0.15, 0.2, 0.3, 0.4, 0.5, 0.6, 0.8, 1.0],
                [0.06, 0.2, 0.21, 0.1, 0.12, 0.13, 0.14, 0.13, 0.13, 0.14, 0.12, 0.11, 0.1, 0.1, 0.1, 0.095]),
    "GenoCanyon": ([0.01, 0.015, 0.02, 0.03, 0.05, 0.08, 0.1, 0.15, 0.2, 0.25, 0.3, 0.4, 0.5, 0.6, 0.7, 0.8, 1.0],
                   [0.1, 0.37, 0.12, 0.1, 0.12, 0.13, 0.14, 0.15, 0.14, 0.12, 0.11, 0.105, 0.1, 0.095, 0.09, 0.095, 0.095]),
}

psoriasis = {
    "DIVAN": ([0.008, 0.094, 0.1, 0.125, 0.15, 0.172, 0.183, 0.204, 0.23, 0.243, 0.269, 0.282, 0.321, 0.36, 0.4, 0.426, 0.465, 0.504, 0.543, 0.582, 0.621, 0.66, 0.687, 0.726, 0.752, 0.791, 0.83, 0.869, 0.896, 0.935, 0.96, 1.0],
              [1.0, 1.0, 0.905, 0.93, 0.897, 0.864, 0.823, 0.848, 0.856, 0.831, 0.848, 0.75, 0.774, 0.741, 0.741, 0.643, 0.643, 0.595, 0.536, 0.52, 0.479, 0.462, 0.421, 0.389, 0.356, 0.307, 0.257, 0.225, 0.184, 0.159, 0.134, 0.093]),
    "GWAVA": ([0.005, 0.02, 0.04, 0.05, 0.06, 0.08, 0.1, 0.15, 0.2, 0.25, 0.3, 0.35, 0.4, 0.5, 0.6, 0.7, 0.8, 0.9, 1.0],
              [0.08, 0.1, 0.15, 0.17, 0.1, 0.09, 0.11, 0.12, 0.13, 0.13, 0.145, 0.13, 0.14, 0.14, 0.14, 0.14, 0.135, 0.12, 0.095]),
    "CADD": ([0.005, 0.02, 0.04, 0.05, 0.06, 0.1, 0.15, 0.2, 0.3, 0.4, 0.5, 0.6, 0.8, 1.0],
             [0.06, 0.1, 0.1, 0.13, 0.06, 0.08, 0.09, 0.1, 0.11, 0.1, 0.1, 0.1, 0.1, 0.1]),
    "Eigen": ([0.005, 0.02, 0.05, 0.1, 0.15, 0.2, 0.3, 0.4, 0.5, 0.6, 0.7, 0.8, 0.9, 1.0],
              [0.06, 0.07, 0.08, 0.085, 0.09, 0.09, 0.09, 0.09, 0.085, 0.085, 0.09, 0.09, 0.095, 0.095]),
    "EigenPC": ([0.005, 0.02, 0.05, 0.1, 0.15, 0.2, 0.25, 0.3, 0.4, 0.5, 0.6, 0.7, 0.8, 0.9, 1.0],
                [0.1, 0.06, 0.08, 0.1, 0.12, 0.12, 0.11, 0.1, 0.1, 0.105, 0.1, 0.1, 0.1, 0.1, 0.1]),
    "GenoCanyon": ([0.005, 0.01, 0.015, 0.02, 0.03, 0.05, 0.08, 0.1, 0.15, 0.2, 0.3, 0.4, 0.5, 0.6, 0.7, 0.8, 0.9, 1.0],
                   [0.17, 0.2, 0.25, 0.1, 0.09, 0.1, 0.09, 0.1, 0.085, 0.085, 0.08, 0.08, 0.08, 0.085, 0.09, 0.09, 0.095, 0.095]),
}

alcoholism = {
    "DIVAN": ([0.003, 0.006, 0.006, 0.019, 0.028, 0.032, 0.036, 0.06, 0.068, 0.084, 0.092, 0.125, 0.15, 0.198, 0.23, 0.262, 0.31, 0.392, 0.473, 0.554, 0.635, 0.716, 0.797, 0.878, 0.943, 1.0],
              [1.0, 1.0, 0.195, 0.28, 0.19, 0.3, 0.21, 0.234, 0.25, 0.257, 0.228, 0.234, 0.228, 0.22, 0.21, 0.2, 0.18, 0.16, 0.155, 0.147, 0.14, 0.143, 0.13, 0.124, 0.112, 0.1]),
    "GWAVA": ([0.005, 0.007, 0.01, 0.02, 0.03, 0.05, 0.07, 0.1, 0.15, 0.2, 0.3, 0.4, 0.5, 0.6, 0.7, 0.8, 0.9, 1.0],
              [0.06, 0.5, 0.15, 0.1, 0.15, 0.17, 0.15, 0.13, 0.11, 0.1, 0.11, 0.115, 0.115, 0.115, 0.11, 0.105, 0.1, 0.1]),
    "CADD": ([0.005, 0.008, 0.01, 0.02, 0.04, 0.05, 0.07, 0.1, 0.2, 0.3, 0.4, 0.6, 0.8, 1.0],
             [0.06, 0.28, 0.15, 0.2, 0.15, 0.17, 0.1, 0.1, 0.1, 0.09, 0.1, 0.1, 0.1, 0.1]),
    "Eigen": ([0.005, 0.02, 0.04, 0.06, 0.08, 0.1, 0.15, 0.2, 0.25, 0.3, 0.4, 0.5, 0.6, 0.7, 0.8, 1.0],
              [0.06, 0.1, 0.13, 0.1, 0.09, 0.09, 0.1, 0.1, 0.11, 0.1, 0.1, 0.1, 0.09, 0.09, 0.09, 0.095]),
    "EigenPC": ([0.005, 0.02, 0.05, 0.08, 0.1, 0.15, 0.2, 0.3, 0.4, 0.6, 0.8, 1.0],
                [0.06, 0.1, 0.12, 0.13, 0.11, 0.1, 0.1, 0.1, 0.1, 0.1, 0.1, 0.095]),
    "GenoCanyon": ([0.005, 0.02, 0.05, 0.08, 0.1, 0.12, 0.15, 0.2, 0.3, 0.4, 0.5, 0.6, 0.7, 0.8, 1.0],
                   [0.06, 0.07, 0.09, 0.1, 0.12, 0.13, 0.12, 0.1, 0.1, 0.1, 0.1, 0.1, 0.1, 0.1, 0.1]),
}

panels = [death, heart_failure, hypertension, myocardial, stroke, cardiovascular,
          hypertrophy, nephropathies, arthritis, asthma, behcet, crohn,
          diabetes_t1, inflammation, bowel, lupus, psoriasis, alcoholism]

titles = ["3:Death, Sudden, Cardiac", "3:Heart Failure", "3:Hypertension",
          "3:Myocardial Infarction", "3:Stroke", "3:Cardiovascular Diseases",
          "4:Hypertrophy, Left Ventricular", "4:Diabetic Nephropathies", "5:Arthritis, Rheumatoid",
          "6:Asthma", "7:Behcet Syndrome", "7:Crohn Disease",
          "7:Diabetes Mellitus, Type 1", "7:Inflammation", "7:Inflammatory Bowel Diseases",
          "7:Lupus Erythematosus, Systemic", "7:Psoriasis", "7:Alcoholism"]

group_colors = {"3": "#0000FF", "4": "#00008B", "5": "#FF0000", "6": "#FFA500", "7": "#FF6347"}

# precision range shown in each panel
y_ranges = [(0, 0.54), (0, 0.5), (0, 0.5),
            (0, 0.2), (0.095, 1.0), (0.095, 1.0),
            (0.095, 1.0), (0.095, 1.0), (0.095, 1.0),
            (0.095, 1.0), (0.095, 1.0), (0.095, 1.0),
            (0.095, 1.0), (0.095, 1.0), (0, 0.585),
            (0.095, 1.0), (0.095, 1.0), (0.095, 1.0)]

ticks_half = [0.0, 0.1, 0.2, 0.3, 0.4, 0.5]
ticks_mi = [0.0, 0.05, 0.10, 0.15, 0.20]
ticks_full = [0.2, 0.4, 0.6, 0.8, 1.0]
ticks_ibd = [0.0, 0.1, 0.2, 0.3, 0.4, 0.5, 0.6]
y_ticks = [ticks_half, ticks_half, ticks_half, ticks_mi] + [ticks_full] * 10 + [ticks_ibd] + [ticks_full] * 3
x_ticks = [0.0, 0.2, 0.4, 0.6, 0.8, 1.0]

legend_panels = [8, 17]

W, H = 843, 1669
fig = plt.figure(figsize=(W / 100, H / 100), dpi=100)
cell_w, cell_h = W / 3, H / 6
ax_w, ax_h = 217, 211

for i, data in enumerate(panels):
    row, col = divmod(i, 3)
    left = col * cell_w + 50
    top = row * cell_h + 27.5
    ax = fig.add_axes([left / W, 1 - (top + ax_h) / H, ax_w / W, ax_h / H])

    for m, c in zip(methods, method_colors):
        r, p = data[m]
        ax.plot(r, p, color=c, lw=2.0 if m == "DIVAN" else 1.4,
                solid_joinstyle="round", solid_capstyle="round")

    lo, hi = y_ranges[i]
    pad = 0.04 * (hi - lo)
    ax.set_xlim(-0.04, 1.04)
    ax.set_ylim(lo - pad, hi + pad)
    ax.set_xticks(x_ticks)
    ax.set_yticks(y_ticks[i])
    ax.xaxis.set_major_formatter(FormatStrFormatter("%.1f"))
    ax.yaxis.set_major_formatter(FormatStrFormatter("%.2f" if i == 3 else "%.1f"))
    ax.tick_params(direction="out", length=5, width=0.8, labelsize=10.3, colors="#222222")
    ax.tick_params(axis="x", pad=3)
    ax.tick_params(axis="y", pad=2, labelrotation=90)
    for lbl in ax.get_yticklabels():
        lbl.set_va("center")
    for s in ax.spines.values():
        s.set_linewidth(0.9)
        s.set_color("#222222")

    ax.set_xlabel("Recall", fontsize=10, color="#222222")
    ax.set_ylabel("Precision", fontsize=10, color="#222222")
    ax.xaxis.set_label_coords(0.5, -0.125)
    ax.yaxis.set_label_coords(-0.115, 0.5)

    t = ax.set_title(titles[i], fontsize=11.9, fontweight="bold",
                     color=group_colors[titles[i][0]], pad=3.8)
    clip = Bbox([[col * cell_w / W, 0], [min((col + 1) * cell_w + 5, W) / W, 1]])
    t.set_clip_box(TransformedBbox(clip, fig.transFigure))
    t.set_clip_on(True)

    if i in legend_panels:
        handles = [Line2D([], [], ls="", marker="o", markersize=4.2, color=c) for c in method_colors]
        leg = ax.legend(handles, methods, loc="upper right", borderaxespad=0,
                        fontsize=8.3, frameon=True, fancybox=False, framealpha=1,
                        handlelength=0.8, handletextpad=0.6, labelspacing=0.28,
                        borderpad=0.55)
        leg.get_frame().set_edgecolor("black")
        leg.get_frame().set_linewidth(0.9)

fig.savefig("out.png", dpi=100)
